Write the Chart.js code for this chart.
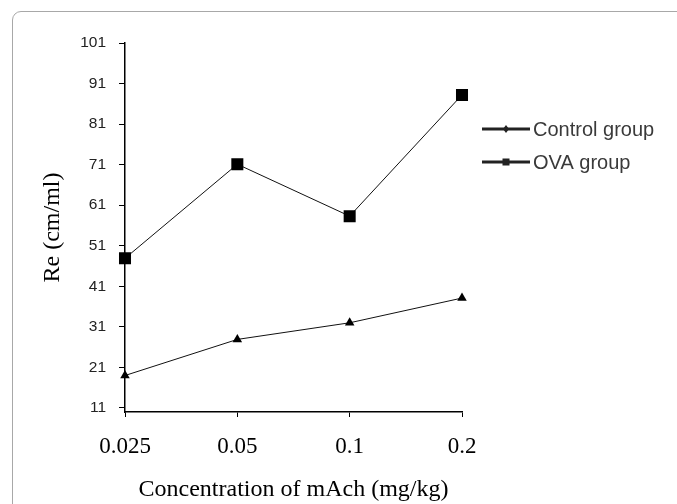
<!DOCTYPE html>
<html>
<head>
<meta charset="utf-8">
<script src="https://cdn.jsdelivr.net/npm/chart.js@4.4.1/dist/chart.umd.min.js"></script>
<style>
  html, body { margin: 0; padding: 0; background: #fff; overflow: hidden; }
  #wrap { position: relative; width: 677px; height: 504px; overflow: hidden; }
  #frame {
    position: absolute; left: 12px; top: 11px; width: 720px; height: 560px;
    border: 1px solid #a8a8a8; border-radius: 9px; box-sizing: border-box;
  }
  canvas { position: absolute; left: 0; top: 0; }
</style>
</head>
<body>
<div id="wrap">
  <div id="frame"></div>
  <canvas id="grafica" width="677" height="504"></canvas>
</div>
<script>
// datos
const dosis = ["0.025", "0.05", "0.1", "0.2"];
const controlGroup = [19.0, 27.9, 32.0, 38.1];
const ovaGroup = [47.9, 71.1, 58.3, 88.2];
const yTicks = [11, 21, 31, 41, 51, 61, 71, 81, 91, 101];

const serif = "'Liberation Serif', 'Times New Roman', serif";
const sans = "'Liberation Sans', Arial, sans-serif";

// leyenda dibujada a mano (linea gruesa con marcador en el medio)
const leyenda = {
  id: "leyenda",
  afterDraw(chart) {
    const ctx = chart.ctx;
    const x0 = 482, x1 = 530;
    let y = 129;
    chart.data.datasets.forEach(ds => {
      ctx.save();
      ctx.strokeStyle = "#222";
      ctx.lineWidth = 3;
      ctx.beginPath();
      ctx.moveTo(x0, y);
      ctx.lineTo(x1, y);
      ctx.stroke();
      ctx.fillStyle = "#222";
      const mx = (x0 + x1) / 2;
      if (ds.pointStyle === "rect") {
        ctx.fillRect(mx - 3.5, y - 3.5, 7, 7);
      } else {
        ctx.beginPath();
        ctx.moveTo(mx, y - 4);
        ctx.lineTo(mx + 3, y);
        ctx.lineTo(mx, y + 4);
        ctx.lineTo(mx - 3, y);
        ctx.closePath();
        ctx.fill();
      }
      ctx.font = "20px " + sans;
      ctx.fillStyle = "#3a3a3a";
      ctx.textBaseline = "middle";
      ctx.fillText(ds.label, x1 + 3, y + 1);
      ctx.restore();
      y += 33;
    });
  }
};

new Chart(document.getElementById("grafica"), {
  type: "line",
  data: {
    labels: dosis,
    datasets: [
      {
        label: "Control group",
        data: controlGroup,
        borderColor: "#111",
        borderWidth: 1,
        backgroundColor: "#000",
        pointStyle: "triangle",
        pointRadius: 5.5,
        pointBorderWidth: 0,
        tension: 0
      },
      {
        label: "OVA group",
        data: ovaGroup,
        borderColor: "#111",
        borderWidth: 1,
        backgroundColor: "#000",
        pointStyle: "rect",
        pointRadius: 8.5,
        pointBorderWidth: 0,
        tension: 0
      }
    ]
  },
  options: {
    responsive: false,
    animation: false,
    layout: { padding: { left: 0, top: 43, right: 215, bottom: 0 } },
    plugins: { legend: { display: false }, tooltip: { enabled: false } },
    scales: {
      x: {
        offset: false,
        grid: { drawOnChartArea: false, drawTicks: true, tickLength: 5, color: "#000" },
        border: { color: "#000", width: 1.5 },
        ticks: {
          color: "#000",
          padding: 16,
          font: { family: serif, size: 23 }
        },
        title: {
          display: true,
          text: "Concentration of mAch (mg/kg)",
          color: "#000",
          padding: { top: 0, bottom: 0 },
          font: { family: serif, size: 24 }
        },
        afterFit(scale) { scale.height = 92; }
      },
      y: {
        min: 10,
        max: 101,
        afterBuildTicks(scale) { scale.ticks = yTicks.map(v => ({ value: v })); },
        grid: { drawOnChartArea: false, drawTicks: true, tickLength: 6, color: "#000" },
        border: { color: "#000", width: 1.5 },
        ticks: {
          color: "#222",
          padding: 13,
          autoSkip: false,
          font: { family: sans, size: 15.5 }
        },
        title: {
          display: true,
          text: "Re (cm/ml)",
          color: "#000",
          padding: { top: 38, bottom: 0 },
          font: { family: serif, size: 24 }
        },
        afterFit(scale) { scale.width = 125; }
      }
    }
  },
  plugins: [leyenda]
});
</script>
</body>
</html>
